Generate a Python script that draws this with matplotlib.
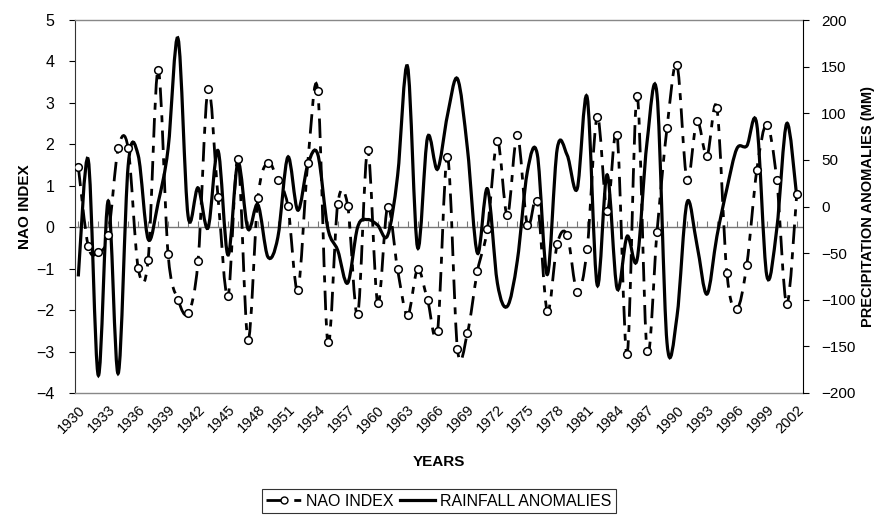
import numpy as np
import matplotlib
matplotlib.use("Agg")
import matplotlib.pyplot as plt
from matplotlib.path import Path
from matplotlib.patches import PathPatch
from matplotlib.lines import Line2D

plt.rcParams['font.family'] = ['Liberation Sans', 'DejaVu Sans']

years = list(range(1930, 2003))

# winter NAO index (left axis)
nao_index = [1.46, -0.46, -0.60, -0.19, 1.90, 1.90, -0.98, -0.78, 3.80, -0.65,
             -1.75, -2.07, -0.82, 3.34, 0.73, -1.67, 1.64, -2.71, 0.71, 1.56,
             1.13, 0.52, -1.51, 1.56, 3.29, -2.77, 0.56, 0.52, -2.10, 1.86,
             -1.83, 0.49, -1.02, -2.13, -1.02, -1.75, -2.51, 1.70, -2.94, -2.55,
             -1.06, -0.05, 2.08, 0.29, 2.23, 0.05, 0.63, -2.03, -0.40, -0.19,
             -1.56, -0.52, 2.67, 0.40, 2.23, -3.06, 3.17, -2.99, -0.11, 2.39,
             3.92, 1.15, 2.56, 1.72, 2.87, -1.10, -1.97, -0.90, 1.38, 2.47,
             1.14, -1.85, 0.79]

# rainfall anomalies in mm (right axis)
rain_mm = [-75, 50, -181, 6, -179, 44, 55, -35, 4, 62,
           180, -10, 20, -23, 60, -52, 47, -24, 2, -54,
           -33, 53, -4, 45, 56, -23, -47, -82, -22, -14,
           -20, -31, 33, 150, -44, 74, 40, 98, 137, 62,
           -50, 19, -82, -107, -58, 37, 56, -73, 62, 55,
           19, 117, -84, 34, -88, -32, -57, 69, 120, -146,
           -118, 4, -41, -94, -32, 19, 62, 65, 88, -74,
           -24, 89, 11]

tick_years = years[::3]


def smooth_path(x, y):
    # Excel-style smoothed line: cubic Bezier through every point
    n = len(x)
    verts = [(x[0], y[0])]
    codes = [Path.MOVETO]
    for i in range(n - 1):
        a = max(i - 1, 0)
        b = min(i + 2, n - 1)
        c1 = (x[i] + (x[i + 1] - x[a]) / 6, y[i] + (y[i + 1] - y[a]) / 6)
        c2 = (x[i + 1] - (x[b] - x[i]) / 6, y[i + 1] - (y[b] - y[i]) / 6)
        verts += [c1, c2, (x[i + 1], y[i + 1])]
        codes += [Path.CURVE4] * 3
    return Path(verts, codes)


fig = plt.figure(figsize=(8.79, 5.21), dpi=100)
ax = fig.add_axes([75 / 879, 1 - 393 / 521, 728 / 879, 373 / 521])
ax2 = ax.twinx()

ax.set_xlim(1929.67, 2002.63)
ax.set_ylim(-4, 5)
ax2.set_ylim(-200, 200)

# zero line with yearly tick marks
ax.axhline(0, color='#777777', lw=1, zorder=1)
ax.plot(years, [0] * len(years), ls='none', marker=2, ms=4, mew=0.8,
        color='#777777', zorder=1)

rain_patch = PathPatch(smooth_path(years, rain_mm), fill=False, ec='black',
                       lw=2.3, transform=ax2.transData, zorder=3)
ax.add_patch(rain_patch)

nao_patch = PathPatch(smooth_path(years, nao_index), fill=False, ec='black',
                      lw=2.0, linestyle=(0, (7, 3, 2.5, 3)), zorder=4)
ax.add_patch(nao_patch)
ax.plot(years, nao_index, ls='none', marker='o', ms=5.5, mfc='white',
        mec='black', mew=1.1, zorder=5)

# axes styling
for s in ['top', 'bottom']:
    ax.spines[s].set_color('#888888')
    ax.spines[s].set_linestyle((0, (1, 1)))
    ax.spines[s].set_linewidth(1)
for s in ['top', 'bottom', 'left']:
    ax2.spines[s].set_visible(False)
ax.spines['right'].set_visible(False)
ax.spines['left'].set_color('#333333')
ax2.spines['right'].set_color('black')

ax.set_yticks(range(-4, 6))
ax.tick_params(axis='y', direction='out', length=4, labelsize=11.5, pad=11)
ax2.set_yticks(range(-200, 201, 50))
ax2.tick_params(axis='y', direction='out', length=4, labelsize=11, pad=9)

ax.set_xticks(tick_years)
ax.set_xticklabels([str(y) for y in tick_years], rotation=45, ha='right',
                   rotation_mode='anchor', fontsize=10.5,
                   family=['Liberation Sans Narrow', 'Liberation Sans'])
ax.tick_params(axis='x', length=0, pad=7)

ax.set_ylabel('NAO INDEX', fontsize=11, fontweight='bold', va='center')
ax.yaxis.set_label_coords(-50 / 728, 0.5)
ax2.set_ylabel('PRECIPITATION ANOMALIES (MM)', fontsize=10.5,
               fontweight='bold', rotation=90, va='center')
ax2.yaxis.set_label_coords(1 + 65 / 728, 0.5)
ax.set_xlabel('YEARS', fontsize=11, fontweight='bold', labelpad=14)

handles = [Line2D([], [], color='black', lw=2, linestyle=(0, (7, 3, 2.5, 3)),
                  marker='o', ms=5, mfc='white', mec='black'),
           Line2D([], [], color='black', lw=2.3)]
leg = fig.legend(handles, ['NAO INDEX', 'RAINFALL ANOMALIES'], ncol=2,
                 loc='center', bbox_to_anchor=(439 / 879, 1 - 501 / 521),
                 frameon=True, fancybox=False, edgecolor='black',
                 handlelength=2.2, handletextpad=0.3, columnspacing=0.4,
                 borderpad=0.3,
                 prop={'family': ['Liberation Sans Narrow', 'Liberation Sans'],
                       'size': 11.5})
leg.get_frame().set_linewidth(0.8)

fig.savefig('out.png', dpi=100)
